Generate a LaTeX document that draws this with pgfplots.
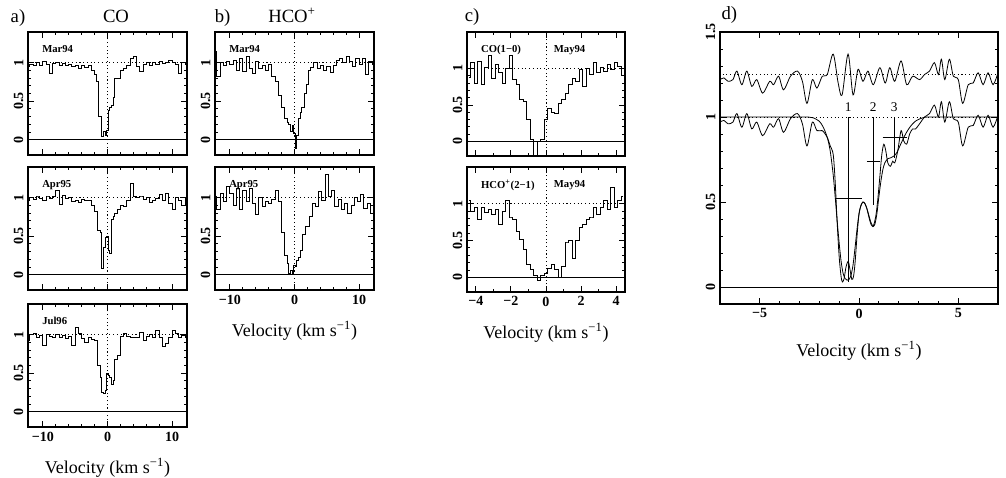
\documentclass[border=0pt]{standalone}
\usepackage{fontspec}
\setmainfont{Liberation Serif}
\usepackage{pgfplots}
\pgfplotsset{compat=1.18}

\newcommand{\tk}{\fontsize{10.5}{12}\selectfont\bfseries}
\newcommand{\ttl}{\fontsize{14}{16}\selectfont}
\newcommand{\lab}{\fontsize{8}{9}\selectfont\bfseries}
\newcommand{\vel}{Velocity (km s\textsuperscript{−1})}

\pgfplotsset{
  spec/.style={
    scale only axis, anchor=south west,
    axis line style={line width=0.8pt},
    tick align=inside, major tick length=4.5pt, minor tick length=2.25pt,
    every tick/.append style={line width=0.6pt, black},
    xticklabel style={font=\tk},
    yticklabel style={font=\tk, rotate=90, anchor=south},
    minor y tick num=4,
    xlabel style={font=\fontsize{13.5}{15}\selectfont, at={(axis description cs:0.5,0)}, anchor=base, yshift=-34.5pt},
    every axis plot/.append style={line width=0.7pt, black},
  },
  wide/.style={spec, width=119.25pt, height=92.25pt,
    xmin=-12.3, xmax=12.3, ymin=-0.2, ymax=1.4,
    xtick={-10,0,10}, xticklabels={}, minor x tick num=4,
    ytick={0,0.5,1}, yticklabels={0,0.5,1}},
  narrow/.style={spec, width=118.5pt, height=93pt,
    xmin=-4.5, xmax=4.5, ymin=-0.2, ymax=1.5,
    xtick={-4,-2,0,2,4}, xticklabels={}, minor x tick num=1,
    ytick={0,0.5,1}, yticklabels={0,0.5,1}},
  hist/.style={const plot mark mid, line width=0.75pt},
  dotl/.style={dash pattern=on 0.8pt off 2pt, line width=0.7pt},
  ref0/.style={line width=0.7pt},
}

\begin{document}
\begin{tikzpicture}
\path[use as bounding box] (0,0) rectangle (754.5pt,-358.5pt);

% ---------- a) CO ----------
\begin{axis}[wide, at={(21pt,-116.25pt)}]
\addplot[ref0] coordinates {(-13,0) (13,0)};
\addplot[dotl] coordinates {(-13,1) (13,1)};
\addplot[dotl] coordinates {(0,-0.3) (0,1.5)};
\addplot[hist] coordinates {(-12.25,0.95) (-11.75,0.98) (-11.25,0.96) (-10.75,1.00) (-10.25,0.97) (-9.75,1.02) (-9.25,0.98) (-8.75,0.86) (-8.25,0.99) (-7.75,1.00) (-7.25,0.96) (-6.75,0.99) (-6.25,0.96) (-5.75,0.98) (-5.25,0.95) (-4.75,0.97) (-4.25,0.93) (-3.75,0.96) (-3.25,0.94) (-2.75,0.97) (-2.25,0.90) (-1.75,0.85) (-1.5,0.75) (-1.25,0.30) (-1.0,0.30) (-0.75,0.04) (-0.5,0.10) (-0.25,0.06) (0,0.12) (0.25,0.38) (0.5,0.42) (0.75,0.45) (1.0,0.55) (1.25,0.80) (1.75,0.80) (2.25,0.90) (2.75,0.93) (3.25,0.96) (3.75,1.05) (4.25,1.08) (4.75,0.95) (5.25,0.88) (5.75,0.98) (6.25,1.00) (6.75,0.96) (7.25,1.00) (7.75,0.98) (8.25,1.02) (8.75,0.99) (9.25,1.00) (9.75,1.03) (10.25,1.00) (10.75,0.98) (11.25,0.86) (11.75,1.00) (12.25,0.98)};
\node[font=\lab, anchor=north west] at (rel axis cs:0.06,0.93) {Mar94};
\end{axis}

\begin{axis}[wide, at={(21pt,-217.5pt)}]
\addplot[ref0] coordinates {(-13,0) (13,0)};
\addplot[dotl] coordinates {(-13,1) (13,1)};
\addplot[dotl] coordinates {(0,-0.3) (0,1.5)};
\addplot[hist] coordinates {(-12.25,0.97) (-11.75,1.00) (-11.25,0.98) (-10.75,1.01) (-10.25,0.99) (-9.75,0.97) (-9.25,1.01) (-8.75,0.99) (-8.25,1.02) (-7.75,1.10) (-7.25,0.91) (-6.75,1.03) (-6.25,0.99) (-5.75,1.00) (-5.25,0.95) (-4.75,0.97) (-4.25,0.94) (-3.75,0.98) (-3.25,0.96) (-2.75,0.97) (-2.25,0.90) (-1.75,0.82) (-1.25,0.58) (-1.0,0.55) (-0.75,0.08) (-0.5,0.35) (-0.25,0.48) (0,0.50) (0.25,0.32) (0.5,0.28) (0.75,0.72) (1.0,0.76) (1.25,0.80) (1.75,0.85) (2.25,0.90) (2.75,0.88) (3.25,0.97) (3.75,1.18) (4.25,1.02) (4.75,1.00) (5.25,1.01) (5.75,0.98) (6.25,1.00) (6.75,0.94) (7.25,0.97) (7.75,0.99) (8.25,1.04) (8.75,0.96) (9.25,1.05) (9.75,0.92) (10.25,0.85) (10.75,1.00) (11.25,0.97) (11.75,0.90) (12.25,1.00)};
\node[font=\lab, anchor=north west] at (rel axis cs:0.06,0.93) {Apr95};
\end{axis}

\begin{axis}[wide, at={(21pt,-320.25pt)}, xticklabels={−10,0,10}, xlabel={\vel}]
\addplot[ref0] coordinates {(-13,0) (13,0)};
\addplot[dotl] coordinates {(-13,1) (13,1)};
\addplot[dotl] coordinates {(0,-0.3) (0,1.5)};
\addplot[hist] coordinates {(-12.25,0.92) (-11.75,1.00) (-11.25,1.02) (-10.75,0.96) (-10.25,0.99) (-9.75,0.86) (-9.25,1.00) (-8.75,0.98) (-8.25,0.96) (-7.75,1.00) (-7.25,0.97) (-6.75,0.99) (-6.25,0.95) (-5.75,0.98) (-5.25,0.86) (-4.75,1.10) (-4.25,1.02) (-3.75,0.95) (-3.25,0.90) (-2.75,0.97) (-2.25,0.94) (-1.75,0.92) (-1.25,0.60) (-1.0,0.45) (-0.75,0.25) (-0.5,0.23) (-0.25,0.28) (0,0.50) (0.25,0.47) (0.5,0.45) (0.75,0.35) (1.0,0.40) (1.25,0.68) (1.75,0.73) (2.25,0.98) (2.75,1.02) (3.25,0.98) (3.75,0.97) (4.25,0.96) (4.75,0.97) (5.25,1.03) (5.75,0.92) (6.25,0.98) (6.75,1.00) (7.25,0.96) (7.75,1.05) (8.25,0.97) (8.75,0.85) (9.25,0.88) (9.75,0.97) (10.25,1.05) (10.75,1.02) (11.25,0.97) (11.75,0.99) (12.25,0.97)};
\node[font=\lab, anchor=north west] at (rel axis cs:0.06,0.93) {Jul96};
\end{axis}

% ---------- b) HCO+ ----------
\begin{axis}[wide, at={(161.25pt,-116.25pt)}]
\addplot[ref0] coordinates {(-13,0) (13,0)};
\addplot[dotl] coordinates {(-13,1) (13,1)};
\addplot[dotl] coordinates {(0,-0.3) (0,1.5)};
\addplot[hist] coordinates {(-12.25,1.15) (-11.75,0.82) (-11.25,1.00) (-10.75,0.96) (-10.25,1.02) (-9.75,0.98) (-9.25,1.03) (-8.75,0.90) (-8.25,1.05) (-7.75,0.88) (-7.25,1.08) (-6.75,0.92) (-6.25,0.86) (-5.75,1.02) (-5.25,0.92) (-4.75,0.97) (-4.25,0.90) (-3.75,0.98) (-3.25,0.82) (-2.75,0.75) (-2.25,0.58) (-1.75,0.42) (-1.25,0.28) (-1.0,0.22) (-0.75,0.20) (-0.5,0.10) (-0.25,0.18) (0,0.08) (0.25,-0.12) (0.5,0.05) (0.75,0.28) (1.0,0.35) (1.25,0.42) (1.75,0.60) (2.0,0.72) (2.25,0.90) (2.75,0.94) (3.25,1.00) (3.75,0.93) (4.25,0.97) (4.75,0.90) (5.25,0.95) (5.75,0.87) (6.25,0.96) (6.75,1.03) (7.25,1.06) (7.75,1.00) (8.25,1.08) (8.75,1.02) (9.25,0.95) (9.75,1.05) (10.25,0.98) (10.75,1.06) (11.25,0.85) (11.75,1.02) (12.25,0.98)};
\node[font=\lab, anchor=north west] at (rel axis cs:0.06,0.93) {Mar94};
\end{axis}

\begin{axis}[wide, at={(161.25pt,-217.5pt)}, xticklabels={−10,0,10}, xlabel={\vel}]
\addplot[ref0] coordinates {(-13,0) (13,0)};
\addplot[dotl] coordinates {(-13,1) (13,1)};
\addplot[dotl] coordinates {(0,-0.3) (0,1.5)};
\addplot[hist] coordinates {(-12.25,1.02) (-11.75,0.85) (-11.25,1.05) (-10.75,0.95) (-10.25,1.15) (-9.75,1.05) (-9.25,0.90) (-8.75,1.12) (-8.25,0.85) (-7.75,1.10) (-7.25,0.95) (-6.75,1.12) (-6.25,0.92) (-5.75,0.78) (-5.25,1.00) (-4.75,0.88) (-4.25,0.95) (-3.75,0.92) (-3.25,0.98) (-2.75,1.10) (-2.25,0.95) (-1.75,0.55) (-1.25,0.25) (-1.0,0.15) (-0.75,0.02) (-0.5,0.05) (-0.25,0.00) (0,0.12) (0.25,0.10) (0.5,0.18) (0.75,0.22) (1.0,0.32) (1.5,0.52) (2.0,0.62) (2.5,0.75) (3.0,0.92) (3.5,0.88) (4.0,1.08) (4.5,0.96) (5.0,1.30) (5.5,1.02) (6.0,1.10) (6.5,0.88) (7.0,0.98) (7.5,0.85) (8.0,0.92) (8.5,0.80) (9.0,0.90) (9.5,1.00) (10.0,0.95) (10.5,1.04) (11.0,0.86) (11.5,0.92) (12.0,0.80) (12.3,0.85)};
\node[font=\lab, anchor=north west] at (rel axis cs:0.06,0.93) {Apr95};
\end{axis}

% ---------- c) May94 ----------
\begin{axis}[narrow, at={(350.25pt,-117pt)}]
\addplot[ref0] coordinates {(-5,0) (5,0)};
\addplot[dotl] coordinates {(-5,1) (5,1)};
\addplot[dotl] coordinates {(0,-0.3) (0,1.6)};
\addplot[hist] coordinates {(-4.4,0.88) (-4.2,1.08) (-4.0,0.80) (-3.8,1.10) (-3.6,0.78) (-3.4,1.02) (-3.2,1.18) (-3.0,0.86) (-2.8,1.05) (-2.6,0.95) (-2.4,0.80) (-2.2,1.00) (-2.0,1.18) (-1.8,0.85) (-1.6,0.78) (-1.4,0.58) (-1.2,0.55) (-1.0,0.30) (-0.8,0.02) (-0.6,-0.20) (-0.4,0.00) (-0.2,0.02) (0.0,0.30) (0.2,0.45) (0.4,0.40) (0.6,0.38) (0.8,0.52) (1.0,0.58) (1.2,0.66) (1.4,0.78) (1.6,0.86) (1.8,0.82) (2.0,0.98) (2.2,0.75) (2.4,1.00) (2.6,0.92) (2.8,1.08) (3.0,0.95) (3.2,1.02) (3.4,0.96) (3.6,1.05) (3.8,0.98) (4.0,1.08) (4.2,1.03) (4.4,0.90)};
\node[font=\lab, anchor=north west] at (rel axis cs:0.06,0.93) {CO(1−0)};
\node[font=\lab, anchor=north west] at (rel axis cs:0.52,0.93) {May94};
\end{axis}

\begin{axis}[narrow, height=93.75pt, at={(350.25pt,-219pt)}, xticklabels={−4,−2,0,2,4}, xlabel={\vel}]
\addplot[ref0] coordinates {(-5,0) (5,0)};
\addplot[dotl] coordinates {(-5,1) (5,1)};
\addplot[dotl] coordinates {(0,-0.3) (0,1.6)};
\addplot[hist] coordinates {(-4.4,1.05) (-4.2,0.90) (-4.0,0.95) (-3.8,0.78) (-3.6,0.95) (-3.4,0.88) (-3.2,0.92) (-3.0,0.85) (-2.8,0.92) (-2.6,0.72) (-2.4,0.90) (-2.2,1.05) (-2.0,0.82) (-1.8,0.78) (-1.6,0.62) (-1.4,0.52) (-1.2,0.38) (-1.0,0.18) (-0.8,0.10) (-0.6,0.02) (-0.4,-0.05) (-0.2,0.02) (0.0,0.05) (0.2,0.12) (0.4,0.18) (0.6,0.10) (0.8,0.00) (1.0,0.15) (1.2,0.48) (1.4,0.50) (1.6,0.25) (1.8,0.50) (2.0,0.68) (2.2,0.72) (2.4,0.78) (2.6,0.82) (2.8,0.95) (3.0,0.85) (3.2,0.95) (3.4,1.05) (3.6,0.92) (3.8,1.22) (4.0,0.95) (4.2,1.05) (4.4,1.10)};
\node[font=\lab, anchor=north west] at (rel axis cs:0.06,0.93) {HCO\textsuperscript{+}(2−1)};
\node[font=\lab, anchor=north west] at (rel axis cs:0.52,0.93) {May94};
\end{axis}

% ---------- d) fit ----------
\begin{axis}[spec, width=208.5pt, height=204pt, at={(540pt,-228pt)},
  xmin=-7, xmax=7, ymin=-0.1, ymax=1.5,
  xtick={-5,0,5}, xticklabels={−5,0,5}, minor x tick num=4,
  ytick={0,0.5,1,1.5}, yticklabels={0,0.5,1,1.5},
  xlabel={\vel}, xlabel style={yshift=-4.5pt}]
\addplot[ref0] coordinates {(-8,0) (8,0)};
\addplot[dotl] coordinates {(-8,1) (8,1)};
\addplot[dotl] coordinates {(-8,1.25) (8,1.25)};
% residual
\addplot[smooth, line width=0.6pt] coordinates {(-7.0,1.22) (-6.8,1.23) (-6.6,1.21) (-6.35,1.22) (-6.15,1.27) (-5.9,1.19) (-5.65,1.27) (-5.4,1.18) (-5.15,1.22) (-4.85,1.14) (-4.5,1.21) (-4.3,1.19) (-4.05,1.24) (-3.8,1.16) (-3.45,1.24) (-3.1,1.27) (-2.85,1.21) (-2.62,1.08) (-2.35,1.22) (-2.12,1.17) (-1.85,1.24) (-1.6,1.25) (-1.3,1.37) (-1.05,1.20) (-0.85,1.13) (-0.55,1.37) (-0.3,1.13) (-0.05,1.28) (0.2,1.21) (0.45,1.27) (0.72,1.19) (1.05,1.29) (1.32,1.20) (1.55,1.29) (1.8,1.21) (2.12,1.33) (2.4,1.19) (2.7,1.24) (3.05,1.22) (3.3,1.25) (3.55,1.27) (3.8,1.32) (4.0,1.25) (4.15,1.34) (4.32,1.22) (4.55,1.34) (4.75,1.24) (5.0,1.22) (5.22,1.08) (5.5,1.19) (5.75,1.20) (6.0,1.26) (6.25,1.19) (6.5,1.26) (6.75,1.19) (7.0,1.26)};
% fit
\addplot[smooth, line width=0.6pt] coordinates {(-7,1) (-4,1) (-2.8,1) (-2.5,0.999) (-2.3,0.995) (-2.0,0.975) (-1.8,0.94) (-1.6,0.88) (-1.45,0.80) (-1.3,0.66) (-1.2,0.53) (-1.1,0.39) (-1.0,0.26) (-0.9,0.15) (-0.8,0.08) (-0.7,0.05) (-0.6,0.04) (-0.5,0.045) (-0.4,0.07) (-0.3,0.13) (-0.2,0.23) (-0.1,0.34) (0.0,0.43) (0.1,0.48) (0.2,0.50) (0.3,0.49) (0.4,0.46) (0.5,0.41) (0.6,0.37) (0.7,0.355) (0.8,0.37) (0.9,0.43) (1.0,0.53) (1.1,0.62) (1.2,0.69) (1.3,0.73) (1.45,0.755) (1.6,0.76) (1.75,0.77) (1.9,0.79) (2.1,0.84) (2.3,0.89) (2.5,0.93) (2.7,0.96) (2.9,0.98) (3.2,0.995) (3.5,1) (4.5,1) (7,1)};
% data
\addplot[smooth, line width=0.6pt] coordinates {(-7.0,0.97) (-6.8,0.98) (-6.6,0.96) (-6.35,0.97) (-6.15,1.02) (-5.9,0.94) (-5.65,1.02) (-5.4,0.93) (-5.15,0.97) (-4.85,0.89) (-4.5,0.96) (-4.3,0.94) (-4.05,0.99) (-3.8,0.91) (-3.45,0.99) (-3.1,1.02) (-2.85,0.96) (-2.62,0.83) (-2.35,0.97) (-2.12,0.92) (-1.85,0.92) (-1.6,0.88) (-1.45,0.83) (-1.3,0.78) (-1.2,0.62) (-1.1,0.38) (-1.0,0.18) (-0.9,0.06) (-0.83,0.03) (-0.75,0.05) (-0.65,0.12) (-0.54,0.15) (-0.45,0.10) (-0.36,0.045) (-0.28,0.06) (-0.2,0.14) (-0.1,0.30) (0.0,0.43) (0.1,0.48) (0.2,0.50) (0.3,0.49) (0.4,0.46) (0.5,0.42) (0.6,0.38) (0.72,0.36) (0.85,0.42) (0.95,0.52) (1.05,0.65) (1.15,0.78) (1.25,0.84) (1.35,0.80) (1.45,0.73) (1.58,0.71) (1.7,0.74) (1.8,0.73) (1.95,0.80) (2.12,0.92) (2.25,0.86) (2.4,0.84) (2.55,0.90) (2.7,0.93) (2.85,0.93) (3.05,0.96) (3.3,1.00) (3.55,1.02) (3.8,1.07) (4.0,1.00) (4.15,1.09) (4.32,0.97) (4.55,1.09) (4.75,0.99) (5.0,0.97) (5.22,0.83) (5.5,0.94) (5.75,0.95) (6.0,1.01) (6.25,0.94) (6.5,1.01) (6.75,0.94) (7.0,1.01)};
% component markers
\addplot[line width=0.5pt] coordinates {(-0.54,1) (-0.54,0.03)};
\addplot[line width=0.5pt] coordinates {(0.72,1) (0.72,0.48)};
\addplot[line width=0.5pt] coordinates {(1.77,1) (1.77,0.76)};
\addplot[line width=0.5pt] coordinates {(-1.21,0.52) (0.13,0.52)};
\addplot[line width=0.5pt] coordinates {(0.39,0.74) (1.06,0.74)};
\addplot[line width=0.5pt] coordinates {(1.19,0.88) (2.40,0.88)};
\node[font=\fontsize{10}{12}\selectfont, anchor=base] at (axis cs:-0.54,1.03) {1};
\node[font=\fontsize{10}{12}\selectfont, anchor=base] at (axis cs:0.72,1.03) {2};
\node[font=\fontsize{10}{12}\selectfont, anchor=base] at (axis cs:1.77,1.03) {3};
\end{axis}

% ---------- titles ----------
\node[font=\ttl, anchor=base] at (13.5pt,-17pt) {a)};
\node[font=\ttl, anchor=base] at (87pt,-17pt) {CO};
\node[font=\ttl, anchor=base] at (167pt,-17pt) {b)};
\node[font=\ttl, anchor=base] at (219pt,-17pt) {HCO\textsuperscript{+}};
\node[font=\ttl, anchor=base] at (354pt,-16pt) {c)};
\node[font=\ttl, anchor=base] at (547pt,-15pt) {d)};
\end{tikzpicture}
\end{document}
